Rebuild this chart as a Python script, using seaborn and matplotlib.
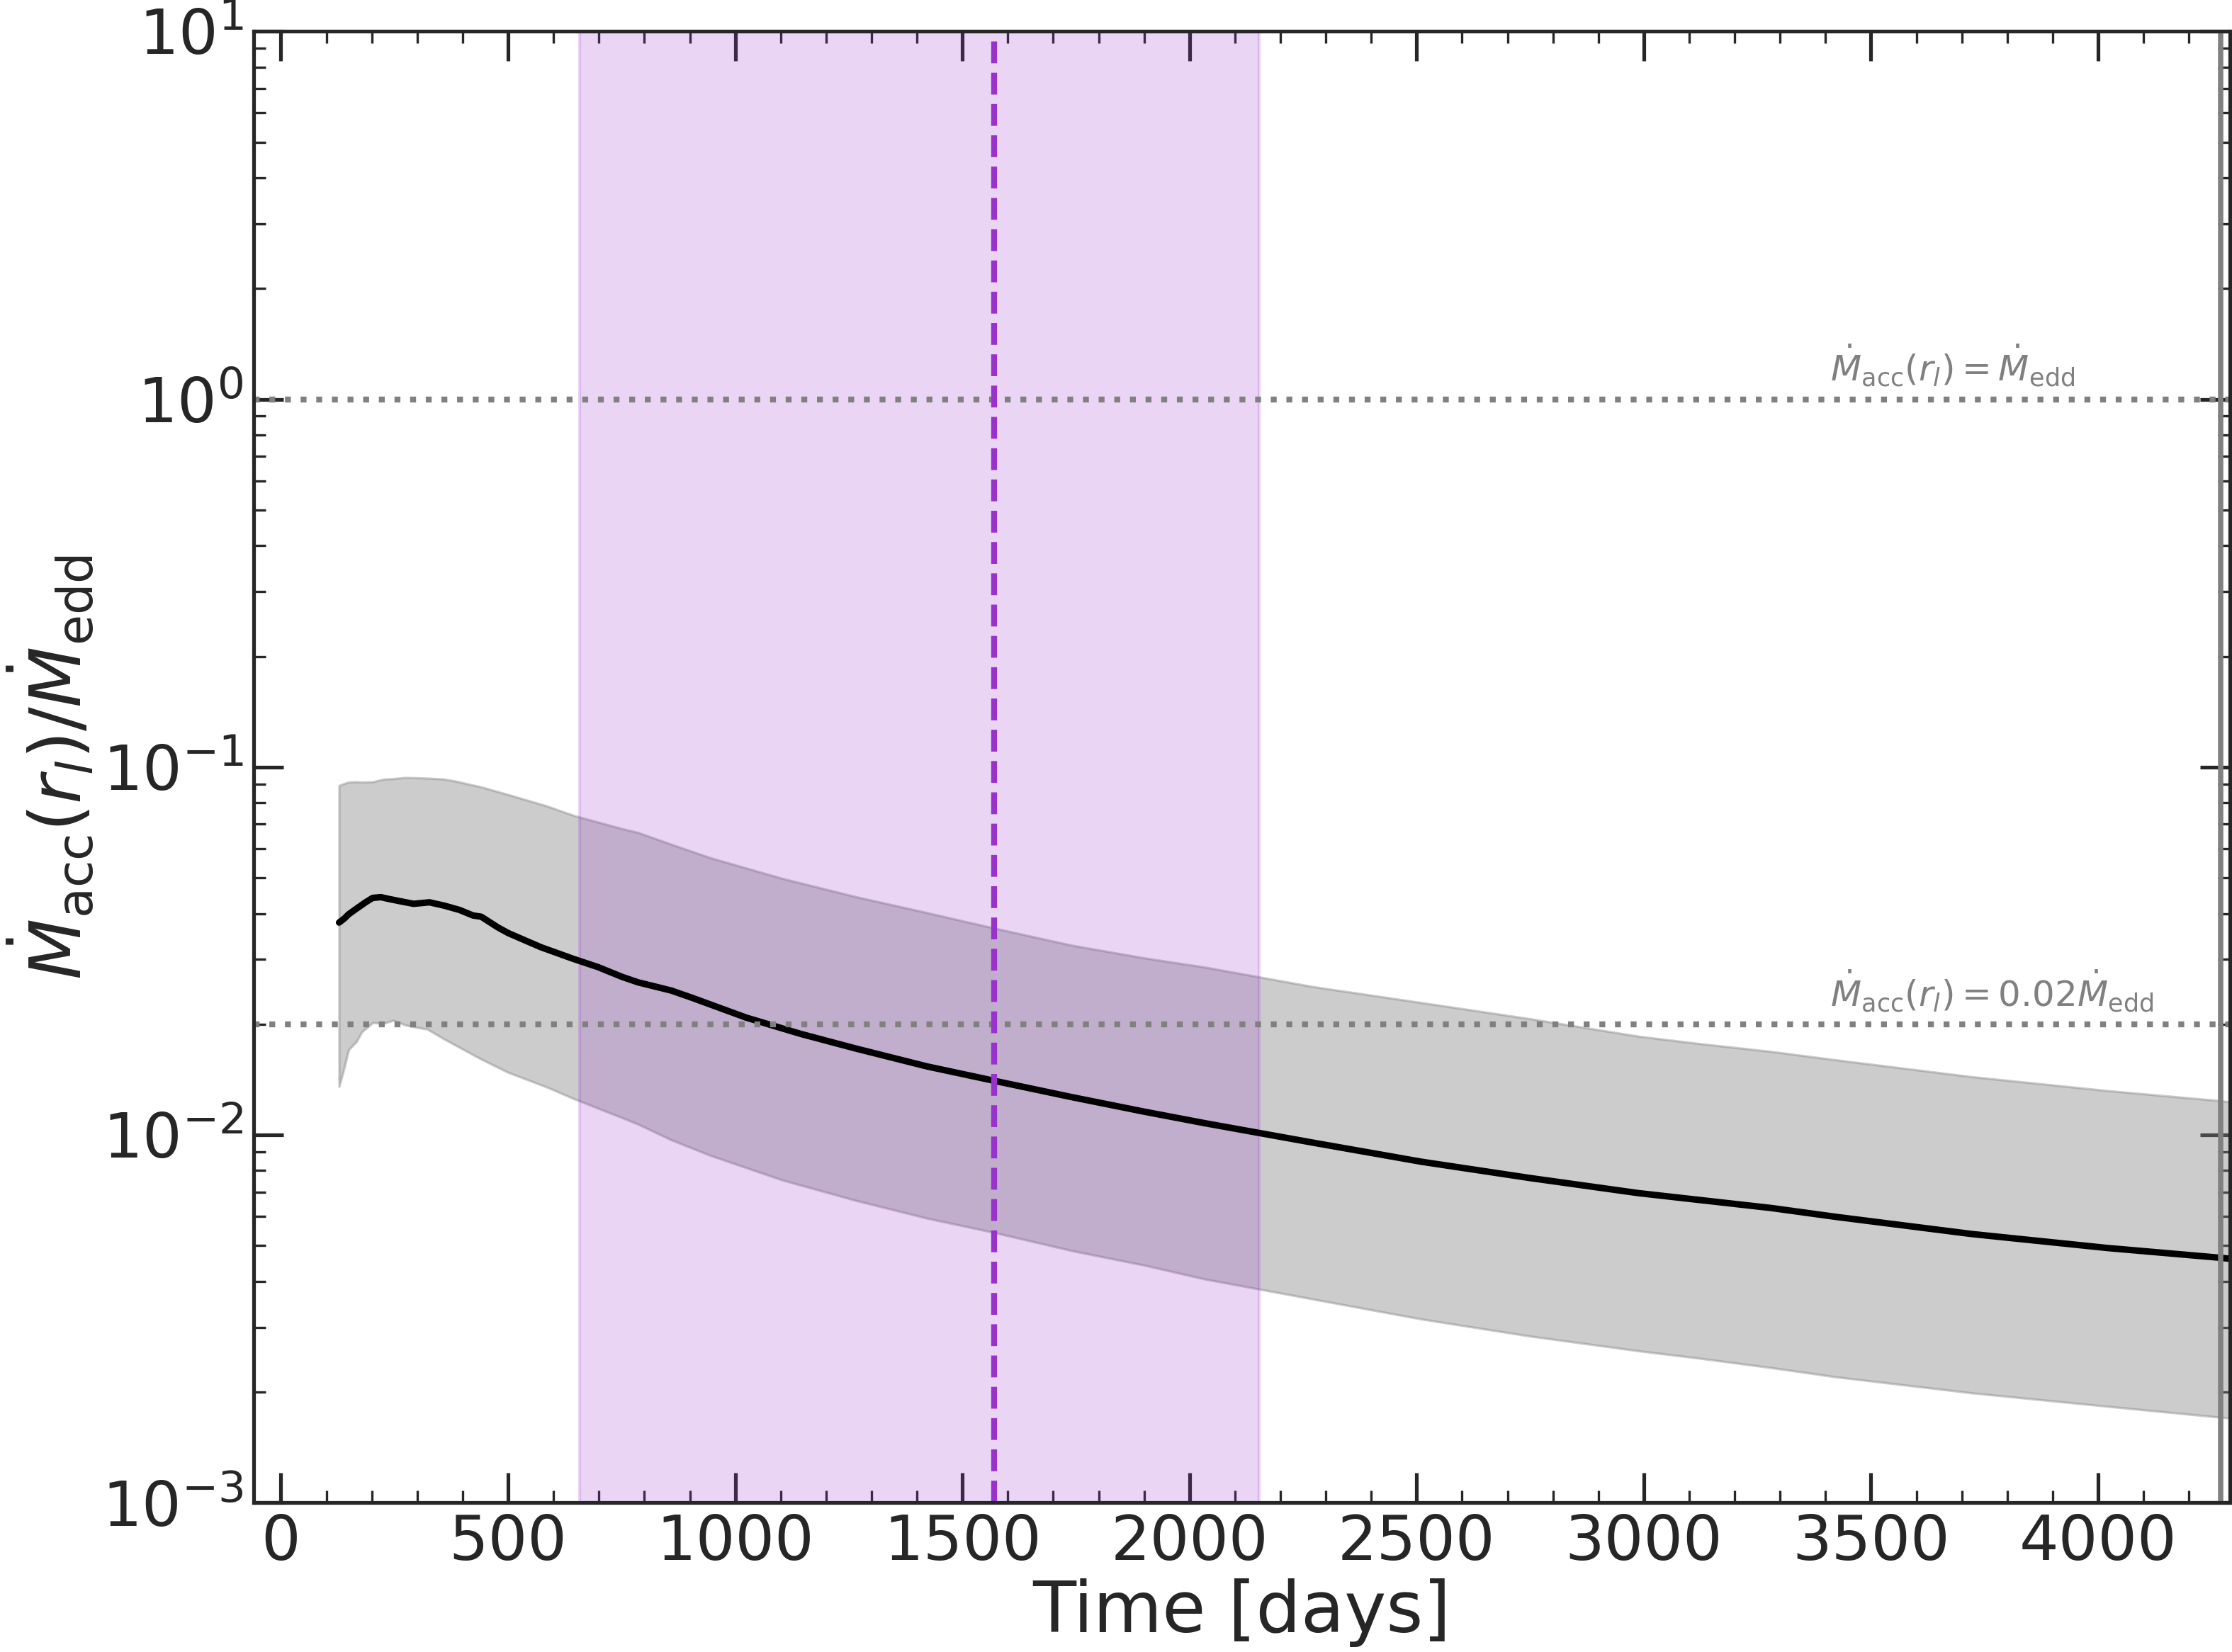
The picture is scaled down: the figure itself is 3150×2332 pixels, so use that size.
import numpy as np
import pandas as pd
import matplotlib
matplotlib.use("Agg")
import matplotlib.pyplot as plt
from matplotlib.ticker import MultipleLocator, LogLocator, NullFormatter
import seaborn as sns

# ---------------- data ----------------
t_mean = [128, 140, 149, 166, 185, 202, 220, 238, 262, 292, 327, 360, 393, 423, 441,
          477, 500, 572, 644, 698, 751, 786, 859, 905, 1024, 1144, 1263, 1422, 1570,
          1740, 1899, 2033, 2272, 2510, 2749, 2988, 3281, 3423, 3722, 4020,
          4266, 4290]
mdot_mean = [0.0378, 0.0388, 0.0398, 0.0412, 0.0428, 0.0441, 0.0443, 0.0438, 0.0432,
             0.0425, 0.0429, 0.0420, 0.0409, 0.0395, 0.0392, 0.0367, 0.0354, 0.0324,
             0.0301, 0.0286, 0.0269, 0.0260, 0.0247, 0.0236, 0.02085, 0.01883,
             0.01721, 0.01536, 0.01404, 0.01268, 0.01158, 0.01077, 0.00953, 0.00846,
             0.00764, 0.00695, 0.00633, 0.00599, 0.00538, 0.00493, 0.00464,
             0.00461]

t_band = [128, 137, 149, 166, 178, 202, 226, 247, 274, 300, 322, 357, 382, 441, 500,
          585, 644, 751, 786, 859, 945, 1104, 1263, 1422, 1570, 1740, 1899, 2033,
          2272, 2510, 2749, 2988, 3125, 3281, 3423, 3722, 4020, 4266, 4290]
mdot_upper = [0.0891, 0.0900, 0.0910, 0.0912, 0.0910, 0.0912, 0.0927, 0.0930, 0.0937,
              0.0935, 0.0933, 0.0928, 0.0917, 0.0883, 0.0842, 0.0784, 0.0739, 0.0680,
              0.0664, 0.0617, 0.0567, 0.0498, 0.0445, 0.0402, 0.0365, 0.0328, 0.0303,
              0.0286, 0.0253, 0.0229, 0.0207, 0.01855, 0.0177, 0.01686, 0.0160,
              0.0144, 0.0132, 0.0124, 0.0123]
mdot_lower = [0.01355, 0.01486, 0.01706, 0.01794, 0.01906, 0.0202, 0.0201, 0.0205,
              0.0199, 0.0196, 0.0194, 0.0183, 0.0176, 0.01607, 0.0148, 0.0135,
              0.01256, 0.01114, 0.0107, 0.0097, 0.0088, 0.00754, 0.00665, 0.00594,
              0.00543, 0.00485, 0.00443, 0.00406, 0.00358, 0.00316, 0.00284,
              0.00259, 0.00247, 0.00233, 0.00220, 0.00199, 0.00183, 0.00171, 0.00170]

span_start, span_end = 657, 2153
t_peak = 1570
t_end_line = 4270
eddington_levels = [1.0, 0.02]
eddington_texts = [r"$\dot{M}_{\rm acc}(r_l) = \dot{M}_{\rm edd}$",
                   r"$\dot{M}_{\rm acc}(r_l) = 0.02\dot{M}_{\rm edd}$"]
xlabel = "Time [days]"
ylabel = r"$\dot{M}_{\rm acc}(r_l)/\dot{M}_{\rm edd}$"

# ---------------- style ----------------
sns.set_theme(style="ticks")
plt.rcParams["font.family"] = ["DejaVu Sans"]
plt.rcParams.update({
    "xtick.direction": "in", "ytick.direction": "in",
    "xtick.top": True, "ytick.right": True,
    "xtick.major.size": 10, "ytick.major.size": 10,
    "xtick.minor.size": 4, "ytick.minor.size": 4,
    "xtick.major.width": 1.25, "ytick.major.width": 1.25,
    "xtick.minor.width": 0.8, "ytick.minor.width": 0.8,
    "axes.linewidth": 1.25,
    "xtick.labelsize": 21, "ytick.labelsize": 21,
    "axes.labelsize": 24,
})

fig = plt.figure(figsize=(3150 / 300, 2332 / 300), dpi=300)
ax = fig.add_axes([0.11365, 0.09027, 0.99905 - 0.11365, 0.98105 - 0.09027])

df_mean = pd.DataFrame({"t": t_mean, "m": mdot_mean})

ax.fill_between(t_band, mdot_lower, mdot_upper, color="gray", alpha=0.4, linewidth=0.8)
ax.axvspan(span_start, span_end, color="darkorchid", alpha=0.2, linewidth=1.0)
sns.lineplot(data=df_mean, x="t", y="m", color="black", linewidth=2.2, ax=ax,
             estimator=None, sort=True)

for lev, txt in zip(eddington_levels, eddington_texts):
    ax.axhline(lev, color="gray", linestyle=":", linewidth=2)
    ax.text(3410, lev * 1.069, txt, color="gray", fontsize=12, ha="left", va="bottom")

ax.axvline(t_peak, color="darkorchid", linestyle="--", linewidth=2)
ax.axvline(t_end_line, color="gray", linewidth=1.8)

ax.set_yscale("log")
ax.set_ylim(1e-3, 1e1)
ax.set_xlim(-60, 4290)
ax.xaxis.set_major_locator(MultipleLocator(500))
ax.xaxis.set_minor_locator(MultipleLocator(100))
ax.yaxis.set_major_locator(LogLocator(base=10, numticks=10))
ax.yaxis.set_minor_locator(LogLocator(base=10, subs=np.arange(2, 10), numticks=20))
ax.yaxis.set_minor_formatter(NullFormatter())

ax.set_xlabel(xlabel, labelpad=2)
ax.set_ylabel(ylabel, labelpad=2)

fig.savefig("out.png", dpi=300)
